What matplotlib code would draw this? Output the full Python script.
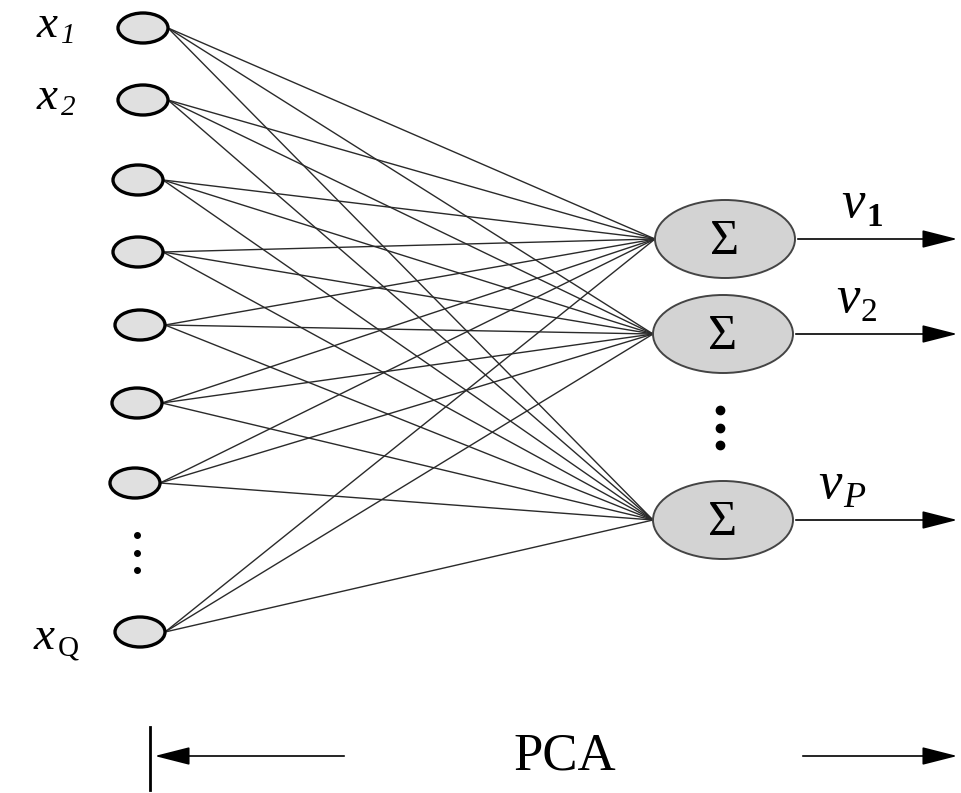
import matplotlib.pyplot as plt
from matplotlib.patches import Ellipse

# input layer nodes (pixel coords, y down)
input_x = [143, 143, 138, 138, 140, 137, 135, 140]
input_y = [28, 100, 180, 252, 325, 403, 483, 632]
# label text for the labelled input nodes: (node index, base, subscript)
input_labels = [(0, "x", "1"), (1, "x", "2"), (7, "x", "Q")]

# output (sum) nodes
sum_x = [725, 723, 723]
sum_y = [239, 334, 520]
out_labels = [("v", "1"), ("v", "2"), ("v", "P")]

fig = plt.figure(figsize=(9.61, 7.93), dpi=100)
ax = fig.add_axes([0, 0, 1, 1])
ax.set_xlim(0, 961)
ax.set_ylim(793, 0)
ax.axis("off")

serif = "Liberation Serif"

# connections: every input to every sum node
for xi, yi in zip(input_x, input_y):
    for xs, ys in zip(sum_x, sum_y):
        ax.plot([xi + 25, xs - 70], [yi, ys], color="#2a2a2a", lw=1.0, zorder=1)

# input nodes
for xi, yi in zip(input_x, input_y):
    ax.add_patch(Ellipse((xi, yi), 50, 30, facecolor="#e0e0e0",
                         edgecolor="black", lw=2.4, zorder=3))

for idx, base, sub in input_labels:
    xi, yi = input_x[idx], input_y[idx]
    drop = 8 if sub == "Q" else 0
    ax.text(xi - 85, yi - 2 + drop, base, fontsize=34, family=serif,
            style="italic", ha="right", va="center")
    ax.text(xi - 82, yi + 8 + drop, sub, fontsize=21, family=serif,
            style="normal" if sub == "Q" else "italic", ha="left", va="center")

# vertical dots between input nodes
for yd in [535, 553, 570]:
    ax.plot(137, yd, "o", color="black", ms=4, zorder=3)

# sum nodes and output arrows
for xs, ys, (base, sub) in zip(sum_x, sum_y, out_labels):
    ax.add_patch(Ellipse((xs, ys), 140, 78, facecolor="#d3d3d3",
                         edgecolor="#444444", lw=1.4, zorder=3))
    ax.text(xs, ys + 3, "\u03a3", fontsize=36, family=serif, ha="center",
            va="center", zorder=4)
    ax.annotate("", xy=(960, ys), xytext=(xs + 70, ys),
                arrowprops=dict(arrowstyle="-|>,head_length=1.1,head_width=0.28",
                                mutation_scale=20, lw=1.2, color="black"))

# output labels (v1, v2, vP)
v_right = [865, 860, 842]
for xr, ys, (base, sub) in zip(v_right, sum_y, out_labels):
    ax.text(xr, ys - 22, base, fontsize=38, family=serif, style="italic",
            ha="right", va="baseline")
    ax.text(xr + 1, ys - 13, sub, fontsize=26 if sub == "P" else 24, family=serif,
            style="italic" if sub == "P" else "normal",
            weight="bold" if sub == "1" else "normal", ha="left", va="baseline")

# vertical dots between sum nodes
for yd in [410, 428, 445]:
    ax.plot(720, yd, "o", color="black", ms=6, zorder=3)

# bottom PCA span
ax.plot([150, 150], [727, 790], color="black", lw=2)
ax.annotate("", xy=(152, 756), xytext=(347, 756),
            arrowprops=dict(arrowstyle="-|>,head_length=1.1,head_width=0.28",
                            mutation_scale=20, lw=1.2, color="black"))
ax.annotate("", xy=(960, 756), xytext=(800, 756),
            arrowprops=dict(arrowstyle="-|>,head_length=1.1,head_width=0.28",
                            mutation_scale=20, lw=1.2, color="black"))
ax.text(565, 757, "PCA", fontsize=38, family=serif, ha="center", va="center")

fig.savefig("out.png", dpi=100)
